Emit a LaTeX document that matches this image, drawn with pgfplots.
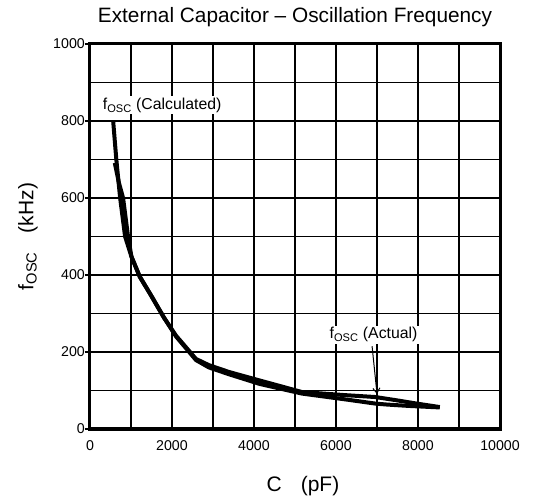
\documentclass[border=0pt]{standalone}
\usepackage{pgfplots}
\pgfplotsset{compat=1.18}
\usepackage{pgfplotstable}
\usepackage{fontspec}
\setmainfont{Liberation Sans}
\usetikzlibrary{arrows.meta}

\pgfplotstableread{
C f
565 800
642 700
735 600
856 500
1010 448
1212 396
1500 345
1800 290
2101 240
2380 205
2585 179
2898 160
3394 142
4140 117
5171 92
6221 77
6961 66
7245 63.5
7763 60
8531 56
}\calcdata

\pgfplotstableread{
C f
605 691
704 640
807 600
928 500
1010 448
1212 396
1500 345
1800 290
2101 242
2585 182
2898 166
3394 148
4140 126
5171 96
6221 88
6961 83
7452 75
7970 66
8531 57
}\actualdata

\begin{document}
\begin{tikzpicture}
\path (-90bp,-70bp) rectangle (449bp,429bp);
\begin{axis}[
  at={(0,0)}, anchor=south west,
  width=410bp, height=385bp, scale only axis,
  xmin=0, xmax=10000, ymin=0, ymax=1000,
  xtick={0,2000,...,10000}, minor xtick={1000,3000,5000,7000,9000},
  ytick={0,200,...,1000}, minor ytick={100,300,500,700,900},
  grid=both,
  major grid style={black, line width=1.5bp},
  minor grid style={black, line width=1.5bp},
  axis line style={black, line width=3bp},
  tick align=outside,
  ytick pos=left, xtick pos=bottom,
  major tick length=4.5bp, minor tick length=0pt,
  xtick style={draw=none},
  ytick style={black, line width=1.4bp},
  scaled ticks=false,
  /pgf/number format/1000 sep={},
  /pgf/number format/assume math mode=true,
  ticklabel style={font=\fontsize{14.2bp}{16bp}\selectfont, text=black},
  xticklabel style={inner sep=0pt, yshift=-7bp},
  yticklabel style={inner sep=0pt, xshift=-0.5bp},
  title={External Capacitor -- Oscillation Frequency},
  title style={at={(axis description cs:0.5,1.041)}, anchor=base, inner sep=0pt,
    font=\fontsize{20.8bp}{24bp}\selectfont},
  xlabel={C\hspace{0.9em}(pF)},
  xlabel style={at={(axis description cs:0.5,-0.163)}, anchor=base, inner sep=0pt, xshift=8bp,
    font=\fontsize{21bp}{24bp}\selectfont},
  ylabel={f\textsubscript{OSC}\hspace{0.9em}(kHz)},
  ylabel style={at={(axis description cs:-0.138,0.5)}, rotate=0, anchor=base, inner sep=0pt,
    font=\fontsize{21bp}{24bp}\selectfont},
]
\addplot[black, line width=4bp, line join=round] table[x=C, y=f] {\calcdata};
\addplot[black, line width=4bp, line join=round] table[x=C, y=f] {\actualdata};
\node[anchor=base west, fill=white, inner sep=1.5bp, font=\fontsize{15.8bp}{18bp}\selectfont]
  at (axis cs:274,830) {f\textsubscript{OSC} (Calculated)};
\node[anchor=base west, fill=white, inner sep=1.5bp, font=\fontsize{15.8bp}{18bp}\selectfont]
  at (axis cs:5805,234) {f\textsubscript{OSC} (Actual)};
\draw[black, line width=1bp, -{Straight Barb[length=5bp, width=7bp]}]
  (axis cs:6880,215) -- (axis cs:7000,91);
\end{axis}
\end{tikzpicture}
\end{document}
